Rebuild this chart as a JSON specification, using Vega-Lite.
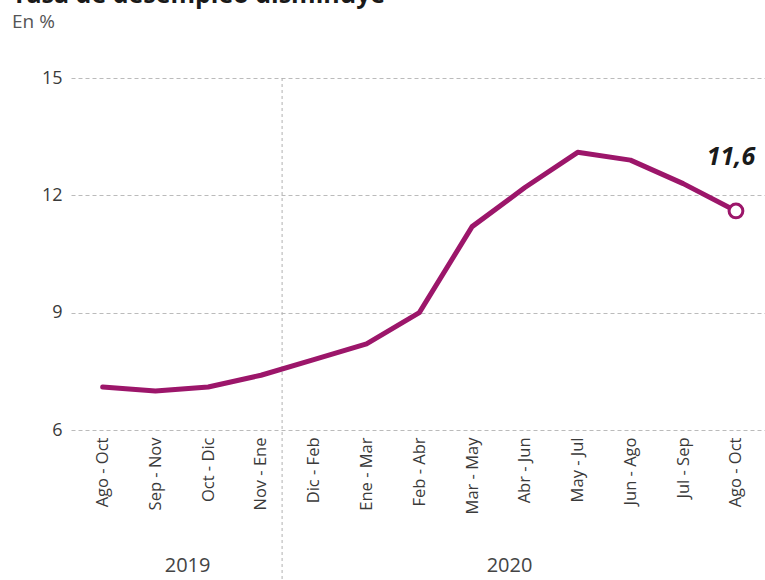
{
  "$schema": "https://vega.github.io/schema/vega-lite/v6.json",
  "width": 694,
  "height": 352,
  "autosize": {"type": "none"},
  "padding": {"left": 71, "top": 78, "right": 0, "bottom": 150},
  "background": "white",
  "config": {
    "view": {"stroke": null},
    "font": "Open Sans",
    "locale": {"number": {"decimal": ",", "thousands": ".", "grouping": [3], "currency": ["", " €"]}}
  },
  "title": {
    "text": "Tasa de desempleo disminuye",
    "subtitle": "En %",
    "anchor": "start",
    "frame": "group",
    "dx": -59,
    "offset": 37,
    "font": "Open Sans",
    "fontSize": 25,
    "fontWeight": "bold",
    "color": "#1a1a1a",
    "subtitleFont": "Open Sans",
    "subtitleFontSize": 19,
    "subtitleColor": "#555555",
    "subtitlePadding": 5
  },
  "data": {
    "values": [
      {"i": 0, "periodo": "Ago - Oct", "anio": 2019, "tasa": 7.1},
      {"i": 1, "periodo": "Sep - Nov", "anio": 2019, "tasa": 7.0},
      {"i": 2, "periodo": "Oct - Dic", "anio": 2019, "tasa": 7.1},
      {"i": 3, "periodo": "Nov - Ene", "anio": 2019, "tasa": 7.4},
      {"i": 4, "periodo": "Dic - Feb", "anio": 2020, "tasa": 7.8},
      {"i": 5, "periodo": "Ene - Mar", "anio": 2020, "tasa": 8.2},
      {"i": 6, "periodo": "Feb - Abr", "anio": 2020, "tasa": 9.0},
      {"i": 7, "periodo": "Mar - May", "anio": 2020, "tasa": 11.2},
      {"i": 8, "periodo": "Abr - Jun", "anio": 2020, "tasa": 12.2},
      {"i": 9, "periodo": "May - Jul", "anio": 2020, "tasa": 13.1},
      {"i": 10, "periodo": "Jun - Ago", "anio": 2020, "tasa": 12.9},
      {"i": 11, "periodo": "Jul - Sep", "anio": 2020, "tasa": 12.3},
      {"i": 12, "periodo": "Ago - Oct", "anio": 2020, "tasa": 11.6}
    ]
  },
  "layer": [
    {
      "data": {"values": [{"corte": 3.4}]},
      "mark": {"type": "rule", "strokeDash": [3, 3], "color": "#b0b0b0", "strokeWidth": 1, "clip": false},
      "encoding": {
        "x": {
          "field": "corte",
          "type": "quantitative",
          "scale": {"domain": [-0.6, 12.55], "nice": false, "zero": false},
          "axis": {
            "orient": "bottom",
            "values": [1.6, 7.7],
            "labelExpr": "datum.value < 5 ? '2019' : '2020'",
            "domain": false,
            "ticks": false,
            "grid": false,
            "title": null,
            "offset": 125,
            "labelPadding": 0,
            "labelFontSize": 20,
            "labelColor": "#444444",
            "labelFont": "Open Sans"
          }
        },
        "y": {"datum": 15, "type": "quantitative"},
        "y2": {"datum": 2}
      }
    },
    {
      "mark": {"type": "line", "color": "#9c166a", "strokeWidth": 5, "strokeJoin": "round", "strokeCap": "round"},
      "encoding": {
        "x": {
          "field": "i",
          "type": "quantitative",
          "axis": {
            "orient": "bottom",
            "values": [0, 1, 2, 3, 4, 5, 6, 7, 8, 9, 10, 11, 12],
            "labelExpr": "['Ago - Oct','Sep - Nov','Oct - Dic','Nov - Ene','Dic - Feb','Ene - Mar','Feb - Abr','Mar - May','Abr - Jun','May - Jul','Jun - Ago','Jul - Sep','Ago - Oct'][datum.value]",
            "labelAngle": -90,
            "labelFontSize": 16.5,
            "labelColor": "#3a3a3a",
            "labelFont": "Open Sans",
            "labelPadding": 7,
            "domain": false,
            "ticks": false,
            "grid": false,
            "title": null,
            "labelOverlap": false
          }
        },
        "y": {
          "field": "tasa",
          "type": "quantitative",
          "scale": {"domain": [6, 15], "nice": false, "zero": false},
          "axis": {
            "values": [6, 9, 12, 15],
            "grid": true,
            "gridDash": [4, 3],
            "gridColor": "#bbbbbb",
            "gridWidth": 1,
            "domain": false,
            "ticks": false,
            "labelFontSize": 18,
            "labelColor": "#3a3a3a",
            "labelFont": "Open Sans",
            "labelPadding": 9,
            "title": null
          }
        }
      }
    },
    {
      "transform": [{"filter": "datum.i == 12"}],
      "mark": {"type": "point", "filled": true, "fill": "white", "stroke": "#9c166a", "strokeWidth": 3, "size": 190, "opacity": 1},
      "encoding": {
        "x": {"field": "i", "type": "quantitative", "axis": null},
        "y": {"field": "tasa", "type": "quantitative"}
      }
    },
    {
      "transform": [{"filter": "datum.i == 12"}],
      "mark": {"type": "text", "dx": -5, "dy": -54, "fontSize": 25, "fontWeight": "bold", "fontStyle": "italic", "font": "Open Sans", "color": "#1a1a1a", "align": "center"},
      "encoding": {
        "x": {"field": "i", "type": "quantitative", "axis": null},
        "y": {"field": "tasa", "type": "quantitative"},
        "text": {"field": "tasa", "type": "quantitative", "format": ".1f"}
      }
    }
  ],
  "resolve": {"axis": {"x": "independent"}}
}
